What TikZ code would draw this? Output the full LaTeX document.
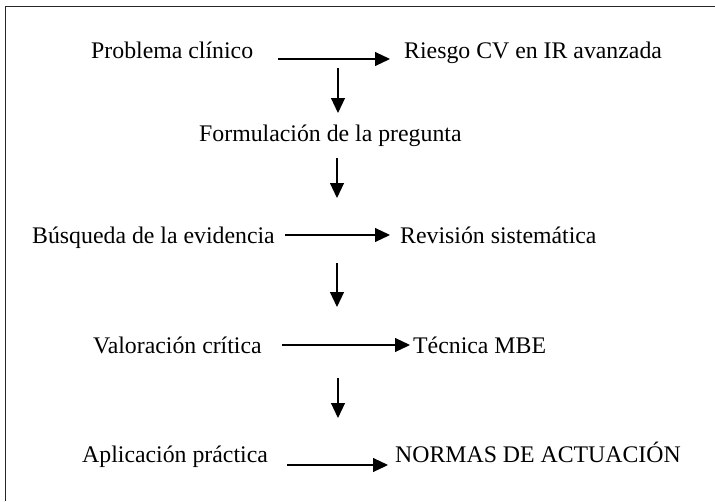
\documentclass[tikz,border=0pt]{standalone}
\usepackage{fontspec}
\setmainfont{Liberation Serif}
\usetikzlibrary{arrows.meta}

\begin{document}
\begin{tikzpicture}[x=1pt,y=-1pt,
                    every node/.style={inner sep=0pt,anchor=base west,
                                       font=\fontsize{23.8}{28}\selectfont},
                    flecha/.style={line width=1.1pt,-{Triangle[length=15pt,width=14pt]}}]
                    \useasboundingbox (0,0) rectangle (715,501);
                    % marco
                    \draw[line width=1pt,black!85] (715,6) -- (5,6) -- (5,501);
                    % pasos
                    \node (problema)   at (91,58)   {Problema clínico};
                    \node (riesgo)     at (404,58)  {Riesgo CV en IR avanzada};
                    \node (formulacion) at (199,141) {Formulación de la pregunta};
                    \node (busqueda)   at (32,243)  {Búsqueda de la evidencia};
                    \node (revision)   at (400,243) {Revisión sistemática};
                    \node (valoracion) at (93,353)  {Valoración crítica};
                    \node (tecnica)    at (413,353) {Técnica MBE};
                    \node (aplicacion) at (82,462)  {Aplicación práctica};
                    \node (normas)     at (395,462) {NORMAS DE ACTUACIÓN};
                    % flechas horizontales
                    \draw[flecha] ([xshift=25pt,yshift=-1pt]problema.base east)
                        -- ([xshift=-14pt,yshift=-1pt]riesgo.base west);
                    \draw[flecha] ([xshift=10pt,yshift=8pt]busqueda.base east)
                        -- ([xshift=-10pt,yshift=8pt]revision.base west);
                    \draw[flecha] ([xshift=20pt,yshift=8pt]valoracion.base east)
                        -- ([xshift=-3pt,yshift=8pt]tecnica.base west);
                    \draw[flecha] ([xshift=19pt,yshift=-3pt]aplicacion.base east)
                        -- ([xshift=-7pt,yshift=-3pt]normas.base west);
                    % flechas verticales
                    \coordinate (v1a) at (338,68);  \coordinate (v1b) at (338,113);
                    \coordinate (v2a) at (337,158); \coordinate (v2b) at (337,198);
                    \coordinate (v3a) at (337,263); \coordinate (v3b) at (337,307);
                    \coordinate (v4a) at (338,378); \coordinate (v4b) at (338,418);
                    \foreach \i in {1,...,4}
                        \draw[flecha] (v\i a) -- (v\i b);
                \end{tikzpicture}
\end{document}
